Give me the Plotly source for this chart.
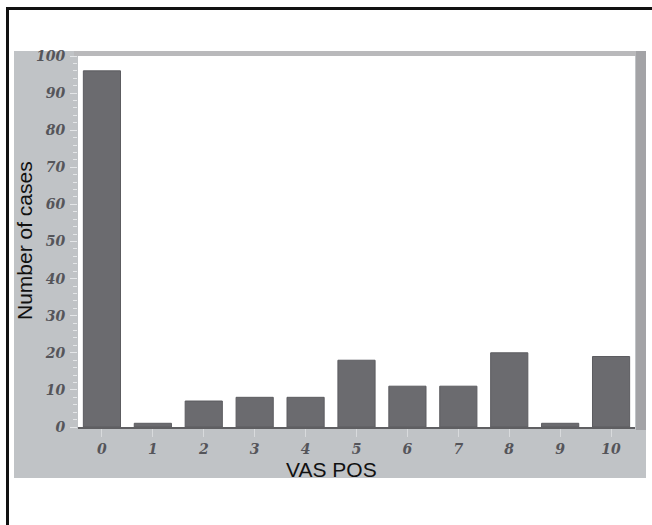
import plotly.graph_objects as go

# VAS POS score categories and number of cases per score
vas_scores = [0, 1, 2, 3, 4, 5, 6, 7, 8, 9, 10]
case_counts = [96, 1, 7, 8, 8, 18, 11, 11, 20, 1, 19]
y_ticks = [0, 10, 20, 30, 40, 50, 60, 70, 80, 90, 100]

W, H = 652, 525
L, R, T, B = 78, 17, 56, 98
pw, ph = W - L - R, H - T - B


def px(x):
    return (x - L) / pw


def py(y):
    return (H - B - y) / ph


tick_font = dict(family="DejaVu Serif", size=14, color="#55555a", style="italic", weight="bold")

fig = go.Figure(
    go.Bar(
        x=vas_scores,
        y=case_counts,
        marker=dict(color="#6b6b6f", line=dict(color="#5c5c60", width=1)),
        width=0.73,
    )
)

shapes = [
    # grey panel behind the plot
    dict(type="rect", xref="paper", yref="paper", x0=px(14), x1=px(646), y0=py(478), y1=py(51),
         fillcolor="#c0c3c6", line=dict(width=0), layer="below"),
    # lighter band along the top of the plot frame
    dict(type="rect", xref="paper", yref="paper", x0=px(74), x1=px(646), y0=py(56), y1=py(51),
         fillcolor="#b9b9bb", line=dict(width=0), layer="below"),
    # darker band along the right of the plot frame
    dict(type="rect", xref="paper", yref="paper", x0=px(636), x1=px(646), y0=py(430), y1=py(51),
         fillcolor="#a3a3a6", line=dict(width=0), layer="below"),
    # white plotting area
    dict(type="rect", xref="paper", yref="paper", x0=0, x1=1, y0=0, y1=1,
         fillcolor="white", line=dict(width=0), layer="below"),
    # outer black border (left and top)
    dict(type="line", xref="paper", yref="paper", x0=px(7.5), x1=px(7.5), y0=py(525), y1=py(7),
         line=dict(color="#111111", width=3)),
    dict(type="line", xref="paper", yref="paper", x0=px(6), x1=px(652), y0=py(8.5), y1=py(8.5),
         line=dict(color="#111111", width=3)),
    # x axis baseline
    dict(type="line", xref="paper", yref="paper", x0=0, x1=1, y0=py(428), y1=py(428),
         line=dict(color="#5f5f62", width=2)),
]

fig.update_layout(
    width=W,
    height=H,
    margin=dict(l=L, r=R, t=T, b=B),
    paper_bgcolor="white",
    plot_bgcolor="white",
    showlegend=False,
    shapes=shapes,
    bargap=0.27,
    annotations=[
        dict(text="Number of cases", xref="paper", yref="paper", x=px(24), y=py(241),
             textangle=-90, showarrow=False, xanchor="center", yanchor="middle",
             font=dict(family="Liberation Sans", size=21, color="#111111")),
        dict(text="VAS POS", xref="paper", yref="paper", x=px(331), y=py(469),
             showarrow=False, xanchor="center", yanchor="middle",
             font=dict(family="Liberation Sans", size=21, color="#111111")),
    ],
)

fig.update_xaxes(
    range=[-0.47, 10.47],
    tickmode="array",
    tickvals=vas_scores,
    ticktext=[str(v) for v in vas_scores],
    ticks="outside",
    ticklen=9,
    tickcolor="#d8dadc",
    tickfont=tick_font,
    showgrid=False,
    zeroline=False,
    showline=False,
    fixedrange=True,
)

fig.update_yaxes(
    range=[0, 100],
    tickmode="array",
    tickvals=y_ticks,
    ticktext=[str(v) for v in y_ticks],
    ticks="outside",
    ticklen=7,
    tickcolor="#e4e6e8",
    ticklabelstandoff=2,
    tickfont=tick_font,
    minor=dict(ticks="outside", ticklen=4, tickcolor="#e4e6e8", dtick=2),
    showgrid=False,
    zeroline=False,
    showline=False,
    fixedrange=True,
)

fig.write_html("out.html")
